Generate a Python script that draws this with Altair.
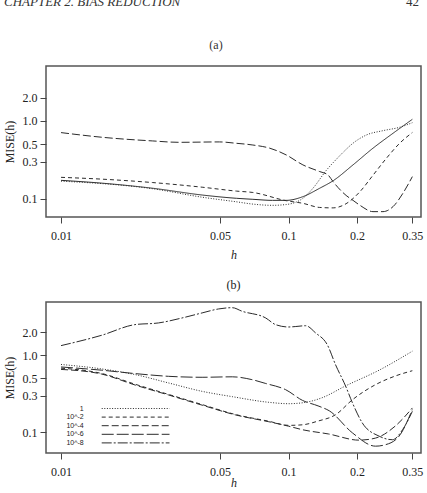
import altair as alt
import pandas as pd

# ---- axis ticks ----
H_TICKS = [0.01, 0.05, 0.1, 0.2, 0.35]
MISE_TICKS = [0.1, 0.3, 0.5, 1.0, 2.0]

HEADER_LEFT = "CHAPTER 2.  BIAS REDUCTION"
HEADER_RIGHT = "42"
TITLE_A = "(a)"
TITLE_B = "(b)"

# ---- panel (a): four estimators ----
A_SERIES = ["solid", "dotted", "dashed", "longdash"]
A_DASHES = [[1, 0], [1, 1.6], [4, 3], [8, 3]]

A_SOLID_H = [0.01, 0.0152, 0.0253, 0.042, 0.059, 0.0697, 0.085, 0.0977, 0.1156, 0.137, 0.157, 0.192, 0.235, 0.288, 0.35]
A_SOLID = [0.172, 0.158, 0.136, 0.111, 0.101, 0.098, 0.095, 0.095, 0.106, 0.136, 0.170, 0.272, 0.446, 0.695, 1.05]

A_DOT_H = [0.01, 0.0253, 0.042, 0.059, 0.0697, 0.085, 0.0977, 0.1156, 0.128, 0.147, 0.162, 0.173, 0.192, 0.22, 0.26, 0.308, 0.35]
A_DOT = [0.168, 0.134, 0.104, 0.091, 0.085, 0.082, 0.084, 0.101, 0.136, 0.234, 0.32, 0.39, 0.517, 0.66, 0.75, 0.83, 0.95]

A_DASH_H = [0.01, 0.0152, 0.0253, 0.042, 0.059, 0.0697, 0.0977, 0.1156, 0.137, 0.157, 0.179, 0.206, 0.235, 0.269, 0.308, 0.35]
A_DASH = [0.188, 0.178, 0.161, 0.14, 0.125, 0.12, 0.094, 0.087, 0.077, 0.076, 0.086, 0.123, 0.2, 0.33, 0.517, 0.71]

A_LONG_H = [0.01, 0.0152, 0.0253, 0.033, 0.0497, 0.0589, 0.0697, 0.0827, 0.0977, 0.1156, 0.137, 0.149, 0.157, 0.179, 0.192, 0.206, 0.235, 0.26, 0.288, 0.318, 0.35]
A_LONG = [0.708, 0.616, 0.553, 0.531, 0.537, 0.516, 0.49, 0.446, 0.365, 0.272, 0.223, 0.202, 0.165, 0.11, 0.095, 0.082, 0.068, 0.068, 0.079, 0.117, 0.192]

# ---- panel (b): ridge parameter ----
B_SERIES = ["1", "10^-2", "10^-4", "10^-6", "10^-8"]
B_DASHES = [[1, 1.6], [4, 3], [7, 3], [12, 3], [10, 2, 2, 2]]

B1_H = [0.01, 0.0151, 0.0212, 0.0297, 0.0417, 0.0566, 0.0819, 0.1, 0.119, 0.14, 0.178, 0.251, 0.35]
B1 = [0.76, 0.665, 0.561, 0.437, 0.34, 0.29, 0.245, 0.235, 0.245, 0.28, 0.40, 0.644, 1.13]

B2_H = [0.01, 0.0151, 0.0212, 0.0297, 0.0417, 0.0585, 0.0819, 0.1, 0.115, 0.135, 0.161, 0.191, 0.241, 0.295, 0.35]
B2 = [0.68, 0.58, 0.42, 0.31, 0.229, 0.17, 0.139, 0.123, 0.125, 0.14, 0.169, 0.265, 0.415, 0.539, 0.63]

B4_H = [0.01, 0.0151, 0.0212, 0.0297, 0.0417, 0.0585, 0.0819, 0.1, 0.115, 0.15, 0.204, 0.241, 0.295, 0.35]
B4 = [0.655, 0.57, 0.41, 0.305, 0.225, 0.168, 0.137, 0.12, 0.108, 0.095, 0.079, 0.084, 0.121, 0.207]

B6_H = [0.01, 0.0151, 0.0212, 0.0297, 0.0417, 0.0566, 0.069, 0.0794, 0.097, 0.115, 0.136, 0.151, 0.191, 0.241, 0.267, 0.306, 0.35]
B6 = [0.705, 0.64, 0.578, 0.533, 0.518, 0.525, 0.483, 0.43, 0.358, 0.26, 0.218, 0.19, 0.098, 0.066, 0.069, 0.089, 0.197]

B8_H = [0.01, 0.0151, 0.0211, 0.0268, 0.034, 0.0417, 0.0493, 0.0566, 0.0625, 0.0794, 0.0877, 0.1, 0.107, 0.119, 0.1315, 0.148, 0.161, 0.178, 0.191, 0.211, 0.25, 0.286, 0.317, 0.35]
B8 = [1.335, 1.82, 2.5, 2.63, 3.05, 3.55, 4.0, 4.15, 3.73, 3.05, 2.5, 2.33, 2.36, 2.42, 1.95, 1.37, 0.75, 0.40, 0.24, 0.132, 0.089, 0.080, 0.108, 0.187]


def frame(series_names, hs, vs):
    rows = []
    for name, h_list, v_list in zip(series_names, hs, vs):
        for h, v in zip(h_list, v_list):
            rows.append({"series": name, "h": h, "mise": v})
    return pd.DataFrame(rows)


df_a = frame(A_SERIES, [A_SOLID_H, A_DOT_H, A_DASH_H, A_LONG_H], [A_SOLID, A_DOT, A_DASH, A_LONG])
df_b = frame(B_SERIES, [B1_H, B2_H, B4_H, B6_H, B8_H], [B1, B2, B4, B6, B8])

SERIF = "Liberation Serif"
INK = "#2b2b2b"
W, H = 375, 151


def x_enc(title_pad):
    return alt.X(
        "h:Q",
        scale=alt.Scale(type="log", domain=[0.00859, 0.382], nice=False),
        axis=alt.Axis(values=H_TICKS, format="~g", title="h", titlePadding=title_pad,
                      titleFontStyle="italic", labelPadding=7),
    )


def y_enc(domain):
    return alt.Y(
        "mise:Q",
        scale=alt.Scale(type="log", domain=domain, nice=False),
        axis=alt.Axis(values=MISE_TICKS, format=".1f", title="MISE(h)", labelPadding=3,
                      titlePadding=6),
    )


def label(text, x, y, align="center", style="normal", size=12):
    return alt.Chart(pd.DataFrame({"t": [text]})).mark_text(
        align=align, baseline="alphabetic", font=SERIF, fontStyle=style, fontSize=size, color="#333"
    ).encode(text="t:N", x=alt.value(x), y=alt.value(y))


line_a = alt.Chart(df_a).mark_line(color=INK, strokeWidth=1, clip=True, interpolate="monotone").encode(
    x=x_enc(8),
    y=y_enc([0.058, 5.1]),
    strokeDash=alt.StrokeDash("series:N", scale=alt.Scale(domain=A_SERIES, range=A_DASHES), legend=None),
)

panel_a = alt.layer(
    line_a,
    label(HEADER_LEFT, -42, -60, align="left", style="italic", size=13),
    label(HEADER_RIGHT, 373, -60, align="right", size=13),
    label(TITLE_A, 170, -17),
).properties(width=W, height=H)

# legend sample strokes sit to the right of their (right-aligned) labels
line_b = alt.Chart(df_b).mark_line(color=INK, strokeWidth=1, clip=True, interpolate="monotone").encode(
    x=x_enc(0),
    y=y_enc([0.0538, 4.92]),
    strokeDash=alt.StrokeDash(
        "series:N",
        scale=alt.Scale(domain=B_SERIES, range=B_DASHES),
        legend=alt.Legend(
            title=None, orient="none", legendX=30.7, legendY=103, direction="vertical",
            symbolType="M7.17,0H29.77", symbolSize=36, symbolStrokeWidth=1,
            symbolStrokeColor=INK, symbolFillColor="transparent",
            labelAlign="right", labelOffset=0, labelFont="Liberation Sans",
            labelFontSize=7, labelColor="#222", rowPadding=0.6, padding=0,
        ),
    ),
)

panel_b = line_b.properties(width=W, height=H, title=alt.TitleParams(TITLE_B, offset=10))

chart = alt.vconcat(panel_a, panel_b, spacing=17).resolve_scale(
    strokeDash="independent"
).resolve_legend(
    strokeDash="independent"
).properties(
    padding={"left": 2, "top": -5, "right": 0, "bottom": 0}
).configure(
    background="white"
).configure_view(
    stroke="#555", strokeWidth=1.5
).configure_axis(
    grid=False, domain=False, tickColor="#444", tickSize=6, tickWidth=1,
    labelFont=SERIF, labelFontSize=12, labelColor="#222",
    titleFont=SERIF, titleFontSize=12, titleFontWeight="normal", titleColor="#222",
).configure_title(
    font=SERIF, fontSize=12, fontWeight="normal", color="#222", anchor="middle"
)

chart.save("out.html", embed_options={"renderer": "svg", "actions": False})
